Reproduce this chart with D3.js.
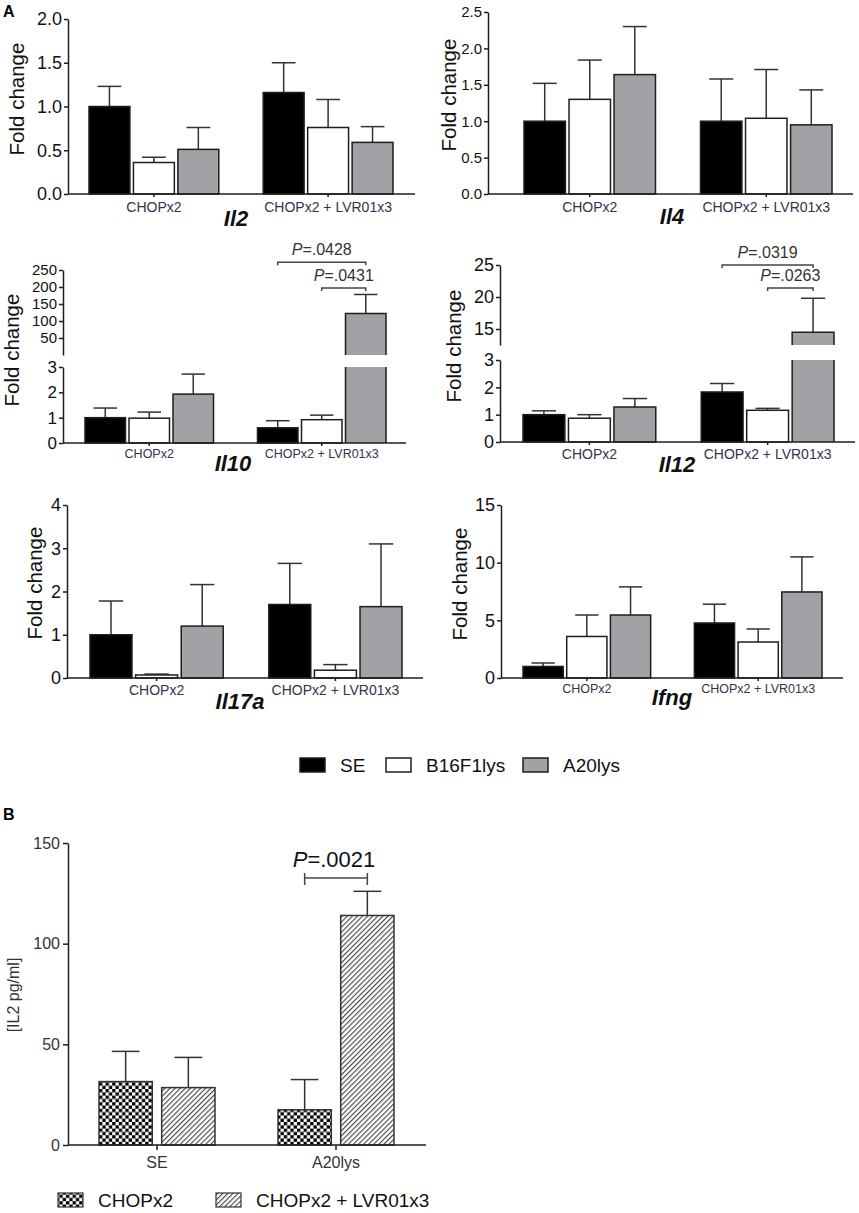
<!DOCTYPE html>
<html>
<head>
<meta charset="utf-8">
<script src="https://cdn.jsdelivr.net/npm/d3@7"></script>
<style>
  body { margin: 0; background: #fff; }
  svg { display: block; }
  text { font-family: "Liberation Sans", Arial, sans-serif; }
</style>
</head>
<body>
<svg id="chart" width="859" height="1213"></svg>
<script>
// ---------- data ----------
const groups = ["CHOPx2", "CHOPx2 + LVR01x3"];
const series = ["SE", "B16F1lys", "A20lys"];

// means and top of error bar, order: CHOPx2 (SE, B16F1lys, A20lys), then CHOPx2 + LVR01x3
const il2Mean   = [1.00, 0.36, 0.51, 1.16, 0.76, 0.59];
const il2Upper  = [1.23, 0.42, 0.76, 1.50, 1.08, 0.77];
const il4Mean   = [1.00, 1.30, 1.64, 1.00, 1.04, 0.95];
const il4Upper  = [1.52, 1.84, 2.30, 1.58, 1.71, 1.43];
const il10Mean  = [1.00, 0.98, 1.93, 0.60, 0.92, 122];
const il10Upper = [1.38, 1.22, 2.72, 0.88, 1.10, 178];
const il12Mean  = [1.00, 0.87, 1.28, 1.83, 1.16, 14.5];
const il12Upper = [1.14, 1.00, 1.59, 2.14, 1.23, 19.8];
const il17aMean  = [1.00, 0.07, 1.20, 1.70, 0.18, 1.65];
const il17aUpper = [1.78, 0.09, 2.16, 2.65, 0.31, 3.10];
const ifngMean  = [1.00, 3.60, 5.46, 4.77, 3.12, 7.46];
const ifngUpper = [1.30, 5.46, 7.90, 6.40, 4.25, 10.5];

const il2Ticks = [0, 0.5, 1, 1.5, 2];
const il4Ticks = [0, 0.5, 1, 1.5, 2, 2.5];
const lowTicks = [0, 1, 2, 3];
const il10HighTicks = [50, 100, 150, 200, 250];
const il12HighTicks = [15, 20, 25];
const il17aTicks = [0, 1, 2, 3, 4];
const ifngTicks = [0, 5, 10, 15];

const il10Brackets = [
  { group: 1, from: 0, to: 2, at: 273, label: ".0428" },
  { group: 1, from: 1, to: 2, at: 197, label: ".0431" }
];
const il12Brackets = [
  { group: 1, from: 0, to: 2, at: 25.0, label: ".0319" },
  { group: 1, from: 1, to: 2, at: 21.4, label: ".0263" }
];

// panel B
const bCategories = ["SE", "A20lys"];
const bSeries = ["CHOPx2", "CHOPx2 + LVR01x3"];
const bMean  = [31.5, 28.5, 17.5, 114];
const bUpper = [46.5, 43.5, 32.5, 126];
const bTicks = [0, 50, 100, 150];
const bBracket = { group: 1, from: 0, to: 1, at: 132.6, label: ".0021" };

// ---------- styles ----------
const seriesFill = ["#000000", "#ffffff", "#a2a2a6"];
const ink = "#1e1e1e";

const svg = d3.select("#chart");
svg.append("rect").attr("width", 859).attr("height", 1213).attr("fill", "#fff");

// patterns for panel B
const defs = svg.append("defs");
const checker = defs.append("pattern")
  .attr("id", "checker")
  .attr("width", 6.6).attr("height", 6.6)
  .attr("patternUnits", "userSpaceOnUse");
checker.append("rect").attr("width", 6.6).attr("height", 6.6).attr("fill", "#fff");
checker.append("rect").attr("width", 3.3).attr("height", 3.3).attr("fill", "#000");
checker.append("rect").attr("x", 3.3).attr("y", 3.3).attr("width", 3.3).attr("height", 3.3).attr("fill", "#000");

const hatch = defs.append("pattern")
  .attr("id", "hatch")
  .attr("width", 3.6).attr("height", 3.6)
  .attr("patternUnits", "userSpaceOnUse")
  .attr("patternTransform", "rotate(45)");
hatch.append("rect").attr("width", 3.6).attr("height", 3.6).attr("fill", "#fff");
hatch.append("line")
  .attr("x1", 0).attr("y1", 0).attr("x2", 0).attr("y2", 3.6)
  .attr("stroke", "#444").attr("stroke-width", 2.2);

// ---------- panel layout ----------
const panels = [
  { gene: "Il2", mean: il2Mean, upper: il2Upper, left: 68, right: 415, barL: 89, barR: 393,
    y0: 194, loTop: 19, loDomain: [0, 2], loTicks: il2Ticks, fmt: d3.format(".1f"), tickFs: 18,
    catFs: 14, catOff: 18, labX: 24, labY: 99, geneX: 236, geneY: 226 },
  { gene: "Il4", mean: il4Mean, upper: il4Upper, left: 488, right: 853, barL: 524, barR: 832,
    y0: 194, loTop: 12, loDomain: [0, 2.5], loTicks: il4Ticks, fmt: d3.format(".1f"), tickFs: 15,
    catFs: 14, catOff: 18, labX: 456, labY: 95, geneX: 672, geneY: 224 },
  { gene: "Il10", mean: il10Mean, upper: il10Upper, left: 63, right: 406, barL: 85, barR: 386,
    y0: 443, loTop: 367, loDomain: [0, 3], loTicks: lowTicks, fmt: d3.format("d"), tickFs: 17,
    hiDomain: [0, 250], hiBottom: 355, yTop: 270, hiTicks: il10HighTicks, hiFs: 15,
    brackets: il10Brackets,
    catFs: 12.5, catOff: 15, labX: 19, labY: 350, geneX: 233, geneY: 471 },
  { gene: "Il12", mean: il12Mean, upper: il12Upper, left: 500, right: 855, barL: 523, barR: 834,
    y0: 442, loTop: 360, loDomain: [0, 3], loTicks: lowTicks, fmt: d3.format("d"), tickFs: 18,
    hiDomain: [12.5, 25], hiBottom: 345, yTop: 265, hiTicks: il12HighTicks, hiFs: 18,
    brackets: il12Brackets,
    catFs: 14, catOff: 17, labX: 461, labY: 346, geneX: 677, geneY: 472 },
  { gene: "Il17a", mean: il17aMean, upper: il17aUpper, left: 67, right: 423, barL: 90, barR: 402,
    y0: 678, loTop: 505, loDomain: [0, 4], loTicks: il17aTicks, fmt: d3.format("d"), tickFs: 18,
    catFs: 14, catOff: 17, labX: 42, labY: 583, geneX: 240, geneY: 709 },
  { gene: "Ifng", mean: ifngMean, upper: ifngUpper, left: 501, right: 843, barL: 523, barR: 822,
    y0: 678, loTop: 505, loDomain: [0, 15], loTicks: ifngTicks, fmt: d3.format("d"), tickFs: 18,
    catFs: 12.5, catOff: 15, labX: 467, labY: 584, geneX: 672, geneY: 705 }
];

function styleAxis(sel, fs, color) {
  sel.attr("font-family", null).attr("font-size", null);
  sel.selectAll(".domain").attr("stroke", ink).attr("stroke-width", 1.5);
  sel.selectAll(".tick line").attr("stroke", ink).attr("stroke-width", 1.5);
  sel.selectAll(".tick text").attr("font-size", fs).attr("fill", color);
}

function drawPanel(p) {
  const g = svg.append("g").attr("class", "panel-" + p.gene);

  const x0 = d3.scaleBand().domain(groups).range([p.barL, p.barR]).paddingInner(0.255);
  const x1 = d3.scaleBand().domain(series).range([0, x0.bandwidth()]).paddingInner(0.08);
  const bw = x1.bandwidth();

  const yLo = d3.scaleLinear().domain(p.loDomain).range([p.y0, p.loTop]);
  const yHi = p.hiDomain ? d3.scaleLinear().domain(p.hiDomain).range([p.hiBottom, p.yTop]) : null;
  const yOf = v => (yHi && v > p.loDomain[1]) ? yHi(v) : yLo(v);

  const rows = p.mean.map((m, i) => ({
    group: groups[Math.floor(i / 3)], s: series[i % 3], si: i % 3, mean: m, upper: p.upper[i]
  }));
  const bx = d => x0(d.group) + x1(d.s);
  const capW = bw * 0.58;

  // error bars (drawn first, bars cover the lower end)
  const err = g.append("g").selectAll("g").data(rows).join("g")
    .attr("stroke", "#333").attr("stroke-width", 1.5);
  err.append("line")
    .attr("x1", d => bx(d) + bw / 2).attr("x2", d => bx(d) + bw / 2)
    .attr("y1", d => yOf(d.mean)).attr("y2", d => yOf(d.upper));
  err.append("line")
    .attr("x1", d => bx(d) + bw / 2 - capW / 2).attr("x2", d => bx(d) + bw / 2 + capW / 2)
    .attr("y1", d => yOf(d.upper)).attr("y2", d => yOf(d.upper));

  // bars
  rows.forEach(d => {
    const x = bx(d);
    if (yHi && d.mean > p.loDomain[1]) {
      // broken bar: lower piece up to the break, upper piece from the break
      const top = yHi(d.mean);
      g.append("rect").attr("x", x).attr("y", p.loTop).attr("width", bw)
        .attr("height", p.y0 - p.loTop).attr("fill", seriesFill[d.si]);
      g.append("rect").attr("x", x).attr("y", top).attr("width", bw)
        .attr("height", p.hiBottom - top).attr("fill", seriesFill[d.si]);
      g.append("path")
        .attr("d", `M${x},${p.y0}V${p.loTop}M${x + bw},${p.loTop}V${p.y0}` +
                   `M${x},${p.hiBottom}V${top}H${x + bw}V${p.hiBottom}`)
        .attr("fill", "none").attr("stroke", ink).attr("stroke-width", 1.5);
    } else {
      g.append("rect").attr("x", x).attr("y", yLo(d.mean)).attr("width", bw)
        .attr("height", p.y0 - yLo(d.mean))
        .attr("fill", seriesFill[d.si]).attr("stroke", ink).attr("stroke-width", 1.5);
    }
  });

  // y axis (one or two segments)
  const ax = g.append("g").attr("transform", `translate(${p.left},0)`)
    .call(d3.axisLeft(yLo).tickValues(p.loTicks).tickFormat(p.fmt).tickSize(4).tickSizeOuter(0).tickPadding(2));
  styleAxis(ax, p.tickFs, "#111");
  if (yHi) {
    const ax2 = g.append("g").attr("transform", `translate(${p.left},0)`)
      .call(d3.axisLeft(yHi).tickValues(p.hiTicks).tickFormat(p.fmt).tickSize(4).tickSizeOuter(0).tickPadding(2));
    styleAxis(ax2, p.hiFs, "#111");
  }

  // x axis
  g.append("line").attr("x1", p.left).attr("x2", p.right).attr("y1", p.y0).attr("y2", p.y0)
    .attr("stroke", ink).attr("stroke-width", 1.5);
  const xa = g.append("g").attr("transform", `translate(0,${p.y0})`)
    .call(d3.axisBottom(x0).tickSize(3).tickSizeOuter(0));
  xa.select(".domain").remove();
  styleAxis(xa, p.catFs, "#33334a");
  xa.selectAll(".tick text").attr("y", p.catOff).attr("dy", null);

  // labels
  g.append("text")
    .attr("transform", `translate(${p.labX},${p.labY}) rotate(-90)`)
    .attr("text-anchor", "middle").attr("font-size", 20.5).attr("fill", "#111")
    .text("Fold change");
  g.append("text")
    .attr("x", p.geneX).attr("y", p.geneY).attr("text-anchor", "middle")
    .attr("font-weight", "bold").attr("font-style", "italic").attr("font-size", 22)
    .attr("fill", "#111").text(p.gene);

  // significance brackets
  (p.brackets || []).forEach(b => {
    const xa1 = x0(groups[b.group]) + x1(series[b.from]) + bw / 2;
    const xa2 = x0(groups[b.group]) + x1(series[b.to]) + bw / 2;
    const yy = yHi(b.at);
    g.append("path").attr("d", `M${xa1},${yy + 3}V${yy}H${xa2}V${yy + 3}`)
      .attr("fill", "none").attr("stroke", "#444").attr("stroke-width", 1.5);
    const t = g.append("text").attr("x", (xa1 + xa2) / 2).attr("y", yy - 7)
      .attr("text-anchor", "middle").attr("font-size", 16).attr("fill", "#333");
    t.append("tspan").attr("font-style", "italic").text("P");
    t.append("tspan").text("=" + b.label);
  });
}

panels.forEach(drawPanel);

// panel letters
svg.append("text").attr("x", 3).attr("y", 17).attr("font-weight", "bold").attr("font-size", 16).text("A");
svg.append("text").attr("x", 3).attr("y", 820).attr("font-weight", "bold").attr("font-size", 16).text("B");

// legend for panel A
const legendA = [300, 386, 523];
series.forEach((s, i) => {
  svg.append("rect").attr("x", legendA[i]).attr("y", 758).attr("width", 25).attr("height", 14)
    .attr("fill", seriesFill[i]).attr("stroke", ink).attr("stroke-width", 1.5);
  svg.append("text").attr("x", legendA[i] + 40).attr("y", 772).attr("font-size", 19)
    .attr("fill", "#111").text(s);
});

// ---------- panel B ----------
(function drawB() {
  const g = svg.append("g").attr("class", "panel-B");
  const left = 68, right = 426, y0 = 1145;
  const x0 = d3.scaleBand().domain(bCategories).range([99, 394]).paddingInner(0.352);
  const x1 = d3.scaleBand().domain(bSeries).range([0, x0.bandwidth()]).paddingInner(0.15);
  const bw = x1.bandwidth();
  const y = d3.scaleLinear().domain([0, 150]).range([y0, 843]);
  const fills = ["url(#checker)", "url(#hatch)"];

  const rows = bMean.map((m, i) => ({
    cat: bCategories[Math.floor(i / 2)], s: bSeries[i % 2], si: i % 2, mean: m, upper: bUpper[i]
  }));
  const bx = d => x0(d.cat) + x1(d.s);
  const capW = bw * 0.52;

  const err = g.append("g").selectAll("g").data(rows).join("g")
    .attr("stroke", "#333").attr("stroke-width", 1.5);
  err.append("line")
    .attr("x1", d => bx(d) + bw / 2).attr("x2", d => bx(d) + bw / 2)
    .attr("y1", d => y(d.mean)).attr("y2", d => y(d.upper));
  err.append("line")
    .attr("x1", d => bx(d) + bw / 2 - capW / 2).attr("x2", d => bx(d) + bw / 2 + capW / 2)
    .attr("y1", d => y(d.upper)).attr("y2", d => y(d.upper));

  g.append("g").selectAll("rect").data(rows).join("rect")
    .attr("x", bx).attr("y", d => y(d.mean)).attr("width", bw)
    .attr("height", d => y0 - y(d.mean))
    .attr("fill", d => fills[d.si]).attr("stroke", "#333").attr("stroke-width", 1.5);

  const ay = g.append("g").attr("transform", `translate(${left},0)`)
    .call(d3.axisLeft(y).tickValues(bTicks).tickSize(5).tickSizeOuter(0).tickPadding(3));
  styleAxis(ay, 16, "#333");

  g.append("line").attr("x1", left).attr("x2", right).attr("y1", y0).attr("y2", y0)
    .attr("stroke", ink).attr("stroke-width", 1.5);
  const ax = g.append("g").attr("transform", `translate(0,${y0})`)
    .call(d3.axisBottom(x0).tickSize(5).tickSizeOuter(0));
  ax.select(".domain").remove();
  styleAxis(ax, 16, "#333");
  ax.selectAll(".tick text").attr("y", 23).attr("dy", null);

  g.append("text")
    .attr("transform", `translate(19,995) rotate(-90)`)
    .attr("text-anchor", "middle").attr("font-size", 16).attr("fill", "#333")
    .text("[IL2 pg/ml]");

  // bracket
  const xb1 = x0(bCategories[bBracket.group]) + x1(bSeries[bBracket.from]) + bw / 2;
  const xb2 = x0(bCategories[bBracket.group]) + x1(bSeries[bBracket.to]) + bw / 2;
  const yb = y(bBracket.at);
  g.append("path")
    .attr("d", `M${xb1},${yb - 5}V${yb + 7}M${xb1},${yb}H${xb2}M${xb2},${yb - 5}V${yb + 7}`)
    .attr("fill", "none").attr("stroke", "#444").attr("stroke-width", 1.5);
  const t = g.append("text").attr("x", (xb1 + xb2) / 2 - 2).attr("y", yb - 11)
    .attr("text-anchor", "middle").attr("font-size", 22).attr("fill", "#111");
  t.append("tspan").attr("font-style", "italic").text("P");
  t.append("tspan").text("=" + bBracket.label);

  // legend
  const legendB = [58, 216];
  bSeries.forEach((s, i) => {
    g.append("rect").attr("x", legendB[i]).attr("y", 1193).attr("width", 25).attr("height", 14)
      .attr("fill", fills[i]).attr("stroke", "#333").attr("stroke-width", 1.2);
    g.append("text").attr("x", legendB[i] + 40).attr("y", 1207).attr("font-size", 19)
      .attr("fill", "#111").text(s);
  });
})();
</script>
</body>
</html>
